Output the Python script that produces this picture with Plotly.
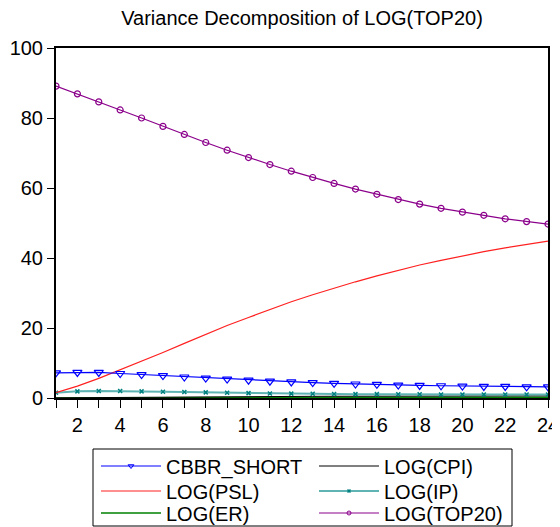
import plotly.graph_objects as go

periods = list(range(1, 25))
cbbr_short = [7.2, 7.3, 7.3, 7.0, 6.7, 6.4, 6.0, 5.7, 5.4, 5.1, 4.8, 4.6,
              4.4, 4.2, 4.0, 3.9, 3.7, 3.6, 3.5, 3.4, 3.3, 3.3, 3.2, 3.2]
log_cpi = [0.05, 0.1, 0.15, 0.2, 0.25, 0.3, 0.33, 0.36, 0.39, 0.42, 0.44, 0.46,
           0.48, 0.5, 0.52, 0.53, 0.54, 0.55, 0.56, 0.57, 0.58, 0.59, 0.6, 0.6]
log_psl = [1.5, 3.4, 5.6, 8.0, 10.5, 13.0, 15.6, 18.2, 20.7, 23.0, 25.3, 27.5,
           29.5, 31.4, 33.2, 34.9, 36.5, 38.0, 39.3, 40.6, 41.8, 42.9, 43.9, 44.8]
log_ip = [1.5, 1.9, 2.0, 2.0, 1.9, 1.8, 1.7, 1.6, 1.5, 1.4, 1.3, 1.25,
          1.2, 1.15, 1.1, 1.1, 1.05, 1.05, 1.0, 1.0, 1.0, 1.0, 1.0, 1.0]
log_er = [0.02, 0.05, 0.07, 0.09, 0.1, 0.12, 0.13, 0.14, 0.15, 0.16, 0.17, 0.18,
          0.19, 0.2, 0.2, 0.21, 0.21, 0.22, 0.22, 0.23, 0.23, 0.24, 0.24, 0.25]
log_top20 = [89.1, 86.9, 84.6, 82.3, 80.0, 77.6, 75.3, 73.0, 70.8, 68.7, 66.7, 64.8,
             63.0, 61.3, 59.7, 58.2, 56.7, 55.4, 54.2, 53.1, 52.2, 51.2, 50.4, 49.7]

x_tick_vals = list(range(1, 25))
x_tick_text = [str(v) if v % 2 == 0 else "" for v in x_tick_vals]
y_tick_vals = [0, 20, 40, 60, 80, 100]

FONT = "Liberation Sans, Arial, sans-serif"
# the page body has an 8px margin, so the figure is placed at (8, 8)
OFF = 8
W, H = 560 - OFF, 527 - OFF
ML, MT = 56 - OFF, 48 - OFF
MR = W - (548 - OFF)
MB = H - (398 - OFF)
pw, ph = W - ML - MR, H - MT - MB

styles = {
    "CBBR_SHORT": dict(line=dict(color="#0000ff", width=1.2),
                       marker=dict(symbol="triangle-down-open", size=8, color="#0000ff",
                                   line=dict(color="#0000ff", width=1.2)),
                       leg_marker=dict(symbol="triangle-down-open", size=5, color="#0000ff",
                                       line=dict(color="#0000ff", width=1))),
    "LOG(CPI)": dict(line=dict(color="#000000", width=1)),
    "LOG(PSL)": dict(line=dict(color="#ff2020", width=1.2)),
    "LOG(IP)": dict(line=dict(color="#5fb3b3", width=2),
                    marker=dict(symbol="x-thin", size=4, color="#008080",
                                line=dict(color="#008080", width=1.5)),
                    leg_marker=dict(symbol="x-thin", size=3, color="#008080",
                                    line=dict(color="#008080", width=1.5))),
    "LOG(ER)": dict(line=dict(color="#008000", width=1.5)),
    "LOG(TOP20)": dict(line=dict(color="#8b008b", width=1.2),
                       marker=dict(symbol="circle-open", size=6, color="#8b008b",
                                   line=dict(color="#8b008b", width=1.2)),
                       leg_marker=dict(symbol="circle-open", size=4, color="#8b008b",
                                       line=dict(color="#8b008b", width=1))),
}
series = {
    "LOG(ER)": log_er, "LOG(CPI)": log_cpi, "LOG(IP)": log_ip,
    "LOG(PSL)": log_psl, "CBBR_SHORT": cbbr_short, "LOG(TOP20)": log_top20,
}
legend_rows = [("legend", ["CBBR_SHORT", "LOG(CPI)"]),
               ("legend2", ["LOG(PSL)", "LOG(IP)"]),
               ("legend3", ["LOG(ER)", "LOG(TOP20)"])]

fig = go.Figure()
for name, vals in series.items():
    st = styles[name]
    mode = "lines+markers" if "marker" in st else "lines"
    kw = dict(line=st["line"])
    if "marker" in st:
        kw["marker"] = st["marker"]
    fig.add_trace(go.Scatter(x=periods, y=vals, name=name, mode=mode,
                             showlegend=False, **kw))

for leg, names in legend_rows:
    for name in names:
        st = styles[name]
        mode = "lines+markers" if "marker" in st else "lines"
        kw = dict(line=st["line"])
        if "marker" in st:
            kw["marker"] = st["leg_marker"]
        fig.add_trace(go.Scatter(x=[None], y=[None], name=name, mode=mode,
                                 legend=leg, showlegend=True, **kw))

row_centers = [466 - OFF, 491 - OFF, 513 - OFF]
leg_common = dict(orientation="h", x=(96 - OFF - ML) / pw, xanchor="left",
                  yref="container", yanchor="middle", bgcolor="rgba(0,0,0,0)",
                  borderwidth=0, font=dict(size=20, family=FONT, color="black"),
                  entrywidth=143, entrywidthmode="pixels", itemwidth=60,
                  traceorder="normal")
legends = {}
for (leg, _), yc in zip(legend_rows, row_centers):
    legends[leg] = dict(leg_common, y=1 - yc / H)

fig.update_layout(
    width=W, height=H,
    margin=dict(l=ML, r=MR, t=MT, b=MB, autoexpand=False),
    paper_bgcolor="white", plot_bgcolor="white",
    font=dict(family=FONT, color="black"),
    title=dict(text="Variance Decomposition of LOG(TOP20)", x=0.5, xref="paper",
               xanchor="center", y=1 - (17.5 - OFF) / H, yanchor="middle",
               font=dict(size=20, family=FONT)),
    showlegend=True,
    **legends,
)
fig.add_shape(type="rect", xref="paper", yref="paper",
              x0=(93 - OFF - ML) / pw, x1=(512 - OFF - ML) / pw,
              y0=(H - MB - (449 - OFF)) / ph, y1=(H - MB - (526 - OFF)) / ph,
              line=dict(color="black", width=1), fillcolor="rgba(0,0,0,0)", layer="below")
fig.update_xaxes(range=[1, 24], tickvals=x_tick_vals, ticktext=x_tick_text,
                 ticks="outside", ticklen=8, tickcolor="black", tickwidth=1,
                 showline=True, linecolor="black", linewidth=2, mirror=True,
                 showgrid=False, zeroline=False, tickfont=dict(size=20))
fig.update_yaxes(range=[0, 100], tickvals=y_tick_vals,
                 ticks="outside", ticklen=7, tickcolor="black", tickwidth=1,
                 showline=True, linecolor="black", linewidth=2, mirror=True,
                 showgrid=False, zeroline=False, tickfont=dict(size=20))

fig.write_html("out.html")
